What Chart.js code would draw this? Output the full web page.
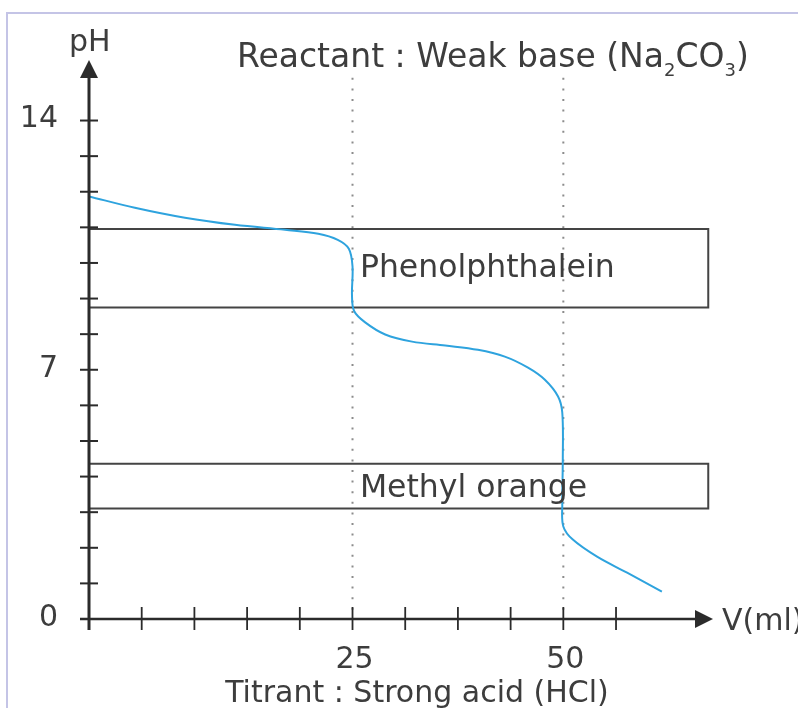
<!DOCTYPE html>
<html>
<head>
<meta charset="utf-8">
<script src="https://cdn.jsdelivr.net/npm/chart.js@4/dist/chart.umd.min.js"></script>
<style>
  html, body { margin: 0; padding: 0; background: #fff; }
  #wrap { width: 798px; height: 708px; }
</style>
</head>
<body>
<div id="wrap"><canvas id="chart" width="798" height="708"></canvas></div>
<script>
// x positions are in axis divisions (one tick = one division), y in pH
const xTicks = [0, 1, 2, 3, 4, 5, 6, 7, 8, 9, 10];
const xTickLabels = ['', '', '', '', '', '25', '', '', '', '50', ''];
const yTicks = [0, 1, 2, 3, 4, 5, 6, 7, 8, 9, 10, 11, 12, 13, 14];
const yTickLabels = ['0', '', '', '', '', '', '', '7', '', '', '', '', '', '', '14'];

// titration curve
const curveX = [0, 0.87, 1.82, 2.77, 3.72, 4.35, 4.72, 4.93, 5.0, 4.99, 5.03, 5.24, 5.62, 6.13, 6.76, 7.38, 7.89, 8.33, 8.65, 8.9, 8.98, 8.99, 8.98, 9.0, 9.18, 9.64, 10.21, 10.87];
const curvePH = [11.87, 11.55, 11.27, 11.07, 10.93, 10.82, 10.65, 10.4, 9.9, 9.1, 8.65, 8.33, 7.99, 7.79, 7.68, 7.56, 7.37, 7.06, 6.72, 6.25, 5.8, 4.5, 3.2, 2.6, 2.23, 1.75, 1.3, 0.77];

// indicator ranges
const indicatorNames = ['Phenolphthalein', 'Methyl orange'];
const indicatorLow = [8.75, 3.1];
const indicatorHigh = [10.95, 4.36];
const indicatorRight = [11.75, 11.75];

// equivalence points (25 ml and 50 ml)
const equivX = [5, 9];
const equivTop = 15.2;

const fontFamily = '"DejaVu Sans", sans-serif';
const textColor = '#3d3d3d';
const axisColor = '#2b2b2b';

function boxPoints(i) {
    return [
        { x: 0, y: indicatorHigh[i] },
        { x: indicatorRight[i], y: indicatorHigh[i] },
        { x: indicatorRight[i], y: indicatorLow[i] },
        { x: 0, y: indicatorLow[i] },
        { x: 0, y: indicatorHigh[i] }
    ];
}

const datasets = [{
    label: 'pH',
    data: curveX.map((x, i) => ({ x: x, y: curvePH[i] })),
    borderColor: '#2ea3de',
    borderWidth: 2,
    tension: 0.35,
    fill: false
}];

indicatorNames.forEach((name, i) => {
    datasets.push({
        label: name,
        data: boxPoints(i),
        borderColor: '#444',
        borderWidth: 2,
        tension: 0,
        fill: false
    });
});

equivX.forEach(x => {
    datasets.push({
        label: 'equivalence',
        data: [{ x: x, y: equivTop }, { x: x, y: 0 }],
        borderColor: '#8c8c8c',
        borderWidth: 2,
        borderDash: [2, 8.6],
        borderCapStyle: 'butt',
        tension: 0,
        fill: false
    });
});

const framePlugin = {
    id: 'frame',
    beforeDraw(chart) {
        const ctx = chart.ctx;
        ctx.save();
        ctx.fillStyle = '#fff';
        ctx.fillRect(0, 0, chart.width, chart.height);
        // lavender frame of the original figure
        ctx.strokeStyle = '#c4c4e6';
        ctx.lineWidth = 2;
        ctx.beginPath();
        ctx.moveTo(7, chart.height);
        ctx.lineTo(7, 13);
        ctx.lineTo(chart.width, 13);
        ctx.stroke();
        ctx.restore();
    },
    afterDatasetsDraw(chart) {
        const ctx = chart.ctx;
        const xs = chart.scales.x;
        const ys = chart.scales.y;
        const x0 = xs.getPixelForValue(0);
        const y0 = ys.getPixelForValue(0);
        const area = chart.chartArea;

        ctx.save();
        ctx.strokeStyle = axisColor;
        ctx.fillStyle = axisColor;

        // axes
        ctx.lineWidth = 3;
        ctx.beginPath();
        ctx.moveTo(x0, y0 + 11);
        ctx.lineTo(x0, area.top + 16);
        ctx.stroke();
        ctx.lineWidth = 2.5;
        ctx.beginPath();
        ctx.moveTo(x0 - 9, y0);
        ctx.lineTo(area.right - 16, y0);
        ctx.stroke();

        // arrow heads
        ctx.beginPath();
        ctx.moveTo(x0, area.top);
        ctx.lineTo(x0 - 9, area.top + 18);
        ctx.lineTo(x0 + 9, area.top + 18);
        ctx.closePath();
        ctx.fill();
        ctx.beginPath();
        ctx.moveTo(area.right, y0);
        ctx.lineTo(area.right - 18, y0 - 9);
        ctx.lineTo(area.right - 18, y0 + 9);
        ctx.closePath();
        ctx.fill();

        // tick marks crossing the axes
        ctx.lineWidth = 2;
        yTicks.forEach(v => {
            const py = ys.getPixelForValue(v);
            ctx.beginPath();
            ctx.moveTo(x0 - 9, py);
            ctx.lineTo(x0 + 9, py);
            ctx.stroke();
        });
        ctx.lineWidth = 1.8;
        xTicks.forEach(v => {
            const px = xs.getPixelForValue(v);
            ctx.beginPath();
            ctx.moveTo(px, y0 - 12);
            ctx.lineTo(px, y0 + 11);
            ctx.stroke();
        });

        // tick labels
        ctx.fillStyle = textColor;
        ctx.font = '30px ' + fontFamily;
        ctx.textAlign = 'right';
        ctx.textBaseline = 'middle';
        yTicks.forEach((v, i) => {
            if (yTickLabels[i]) ctx.fillText(yTickLabels[i], 58, ys.getPixelForValue(v) - 1);
        });
        ctx.textAlign = 'center';
        ctx.textBaseline = 'alphabetic';
        xTicks.forEach((v, i) => {
            if (xTickLabels[i]) ctx.fillText(xTickLabels[i], xs.getPixelForValue(v) + 2, 668);
        });

        // axis titles
        ctx.font = '30px ' + fontFamily;
        ctx.textAlign = 'left';
        ctx.fillText('pH', 69, 51);
        ctx.textBaseline = 'middle';
        ctx.fillText('V(ml)', 722, y0 + 3);
        ctx.textBaseline = 'alphabetic';
        ctx.textAlign = 'center';
        ctx.fillText('Titrant : Strong acid (HCl)', 417, 702);

        // indicator labels inside the boxes
        ctx.textAlign = 'left';
        ctx.font = '31.5px ' + fontFamily;
        ctx.fillText(indicatorNames[0], xs.getPixelForValue(5.14), ys.getPixelForValue(9.61));
        ctx.fillText(indicatorNames[1], xs.getPixelForValue(5.14), ys.getPixelForValue(3.43));

        // title with subscripts
        const parts = [['Reactant : Weak base (Na', false], ['2', true], ['CO', false], ['3', true], [')', false]];
        let tx = 237;
        parts.forEach(([t, sub]) => {
            ctx.font = (sub ? '18px ' : '33px ') + fontFamily;
            ctx.fillText(t, tx, sub ? 76 : 67);
            tx += ctx.measureText(t).width;
        });

        ctx.restore();
    }
};

new Chart(document.getElementById('chart'), {
    type: 'line',
    data: { datasets: datasets },
    options: {
        responsive: false,
        animation: false,
        layout: { padding: { left: 89, right: 85, top: 60, bottom: 89 } },
        scales: {
            x: { type: 'linear', display: false, min: 0, max: 11.84 },
            y: { type: 'linear', display: false, min: 0, max: 15.7 }
        },
        elements: { point: { radius: 0 } },
        plugins: {
            legend: { display: false },
            tooltip: { enabled: false }
        }
    },
    plugins: [framePlugin]
});
</script>
</body>
</html>
